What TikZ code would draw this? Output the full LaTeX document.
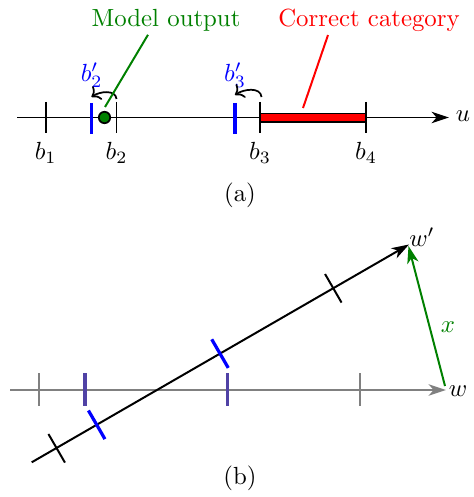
\documentclass[tikz,border=0pt]{standalone}
\usetikzlibrary{arrows.meta, calc}

\definecolor{darkgreen}{RGB}{0,128,0}
\definecolor{projblue}{RGB}{80,66,165}

\begin{document}
\begin{tikzpicture}[
    x=0.4032pt, y=0.4032pt,
    axis/.style={line width=0.8pt, -{Stealth[length=7pt, width=4.6pt, inset=2pt]}},
    tick/.style={line width=0.8pt},
    newtick/.style={line width=1.3pt, draw=blue},
    projtick/.style={line width=1.3pt, draw=projblue},
    shift arr/.style={line width=0.7pt, ->},
    lead/.style={line width=0.8pt},
    catbar/.style={draw=black, fill=red, line width=0.8pt},
    dot/.style={circle, draw=black, fill=darkgreen, line width=0.7pt,
                minimum size=4.6pt, inner sep=0pt}
  ]
    \useasboundingbox (0,0) rectangle (473,-497);

    % (a) the u axis
    \coordinate (ustart) at (17,-117.5);
    \coordinate (uend) at (449,-117.5);
    \draw[axis] (ustart) -- (uend);
    \node (ulab) at (463,-116) {$u$};

    \draw[catbar] (260,-113.5) rectangle (366,-122);

    \foreach \x/\n in {45.7/1, 116.5/2, 260/3, 366/4} {
      \draw[tick] (\x,-102) -- (\x,-133);
      \node (b\n) at (\x,-153) {$b_{\n}$};
    }
    \foreach \x/\n in {91.7/2, 235/3} {
      \draw[newtick] (\x,-103) -- (\x,-134);
      \node[text=blue] (bn\n) at (\x,-75) {$b'_{\n}$};
    }

    \node[dot] (out) at (104.5,-117.5) {};

    \draw[shift arr] (116.5,-99) to[out=95, in=35] (91.5,-97);
    \draw[shift arr] (261.5,-97) to[out=95, in=35] (235,-95);

    \node[text=darkgreen] (mo) at (166,-20) {Model output};
    \node[text=red] (cc) at (369,-20) {Correct category};
    \coordinate (mofoot) at (105,-107);
    \coordinate (ccfoot) at (303,-108);
    \draw[lead, darkgreen] (mofoot) -- ($(mo.south)+(-18,5)$);
    \draw[lead, red] (ccfoot) -- ($(cc.south)+(-41,5)$);

    \node (capa) at (240,-195) {(a)};

    % (b) projection onto w'
    \coordinate (wstart) at (10,-390);
    \coordinate (wend) at (446,-390);
    \draw[axis, gray] (wstart) -- (wend);
    \node (wlab) at (458,-391) {$w$};

    \foreach \x in {39.3, 360}
      \draw[tick, gray] (\x,-373) -- (\x,-406);
    \foreach \x in {85, 227.7}
      \draw[projtick] (\x,-373) -- (\x,-406);

    \coordinate (pstart) at (31.7,-462.3);
    \coordinate (pend) at (409,-244.5);
    \draw[axis] (pstart) -- (pend);
    \node (wplab) at (422,-237) {$w'$};

    \foreach \x/\y in {56.7/-448.3, 333.3/-288.3}
      \draw[tick] (\x,\y) ++(120:16.5) -- ++(-60:33);
    \foreach \x/\y in {96.7/-424.8, 220/-353.6}
      \draw[newtick] (\x,\y) ++(120:16.5) -- ++(-60:33);

    \coordinate (xtail) at (445,-386);
    \coordinate (xhead) at (408.5,-246);
    \draw[axis, darkgreen] (xtail) -- (xhead);
    \node[text=darkgreen] (xlab) at (448,-327) {$x$};

    \node (capb) at (240,-478) {(b)};
\end{tikzpicture}
\end{document}
